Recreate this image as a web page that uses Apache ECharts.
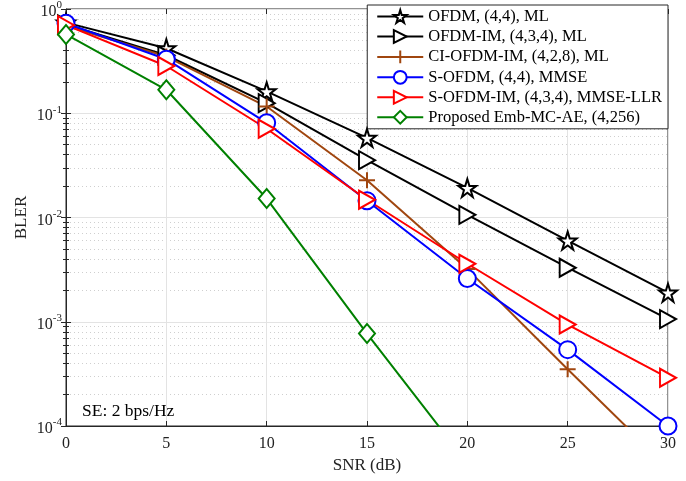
<!DOCTYPE html>
<html><head><meta charset="utf-8">
<script src="https://cdn.jsdelivr.net/npm/echarts@6/dist/echarts.min.js"></script>
<style>html,body{margin:0;padding:0;background:#fff}#c{width:686px;height:481px}</style>
</head><body><div id="c"></div>
<script>
const snr = [0, 5, 10, 15, 20, 25, 30];
const ofdm = [0.74, 0.42, 0.162, 0.058, 0.0192, 0.006, 0.0019];
const ofdmIm = [0.71, 0.36, 0.125, 0.0355, 0.0106, 0.0033, 0.00106];
const ciOfdmIm = [0.69, 0.35, 0.116, 0.0228, 0.0032, 0.00035, 0.00004];
const sOfdm = [0.73, 0.33, 0.081, 0.0145, 0.0026, 0.00054, 0.0001];
const sOfdmIm = [0.70, 0.284, 0.071, 0.0148, 0.0036, 0.00094, 0.00029];
const proposed = [0.57, 0.168, 0.0152, 0.00077, 0.000044];
const names = ['OFDM, (4,4), ML', 'OFDM-IM, (4,3,4), ML', 'CI-OFDM-IM, (4,2,8), ML',
  'S-OFDM, (4,4), MMSE', 'S-OFDM-IM, (4,3,4), MMSE-LLR', 'Proposed Emb-MC-AE, (4,256)'];

const FONT = 'Liberation Serif';
const STAR = 'path://M50,0 L61,35 L98,35 L68,57 L79,91 L50,70 L21,91 L32,57 L2,35 L39,35 Z';
const TRI_R = 'path://M0,0 L10,5 L0,10 Z';
const PLUS = 'path://M0,5 L10,5 M5,0 L5,10';

function mk(name, data, color, symbol, size, extra) {
  return Object.assign({
    name, type: 'line', data: data.map((v, i) => [snr[i], v]),
    symbol, symbolSize: size, clip: true,
    lineStyle: {color, width: 2},
    itemStyle: {color: '#fff', borderColor: color, borderWidth: 2},
    emphasis: {disabled: true}, animation: false, z: 5
  }, extra || {});
}

const series = [
  mk(names[0], ofdm, '#000000', STAR, 18),
  mk(names[1], ofdmIm, '#000000', TRI_R, [16, 18]),
  mk(names[2], ciOfdmIm, '#a0460f', PLUS, 16, {itemStyle: {color: 'none', borderColor: '#a0460f', borderWidth: 2}}),
  mk(names[3], sOfdm, '#0000ff', 'circle', 17),
  mk(names[4], sOfdmIm, '#ff0000', TRI_R, [16, 18]),
  mk(names[5], proposed, '#008000', 'diamond', [16, 19])
];

const chart = echarts.init(document.getElementById('c'));
chart.setOption({
  animation: false,
  backgroundColor: '#fff',
  textStyle: {fontFamily: FONT},
  grid: {left: 66, right: 18, top: 6, bottom: 55, show: true, borderColor: '#262626', borderWidth: 1},
  legend: {
    orient: 'vertical', right: 18, top: 5, data: names,
    backgroundColor: '#fff', borderColor: '#262626', borderWidth: 1,
    padding: [3, 6, 3, 9], itemGap: 3, itemWidth: 46, itemHeight: 16,
    textStyle: {fontFamily: FONT, fontSize: 16.5, color: '#000'}
  },
  xAxis: [{
    type: 'value', min: 0, max: 30, interval: 5,
    name: 'SNR (dB)', nameLocation: 'middle', nameGap: 31,
    nameTextStyle: {fontFamily: FONT, fontSize: 17, color: '#222'},
    axisLine: {lineStyle: {color: '#262626'}},
    axisTick: {inside: true, length: 5, lineStyle: {color: '#262626'}},
    axisLabel: {fontFamily: FONT, fontSize: 16, color: '#222', margin: 10},
    splitLine: {lineStyle: {color: '#e3e3e3', width: 1}}
  }, {
    type: 'value', min: 0, max: 30, interval: 5, position: 'top',
    axisLine: {show: false}, axisTick: {inside: true, length: 5, lineStyle: {color: '#262626'}},
    axisLabel: {show: false}, splitLine: {show: false}
  }],
  yAxis: [{
    type: 'log', logBase: 10, min: 1e-4, max: 1,
    name: 'BLER', nameLocation: 'middle', nameGap: 36, nameMoveOverlap: false,
    nameTextStyle: {fontFamily: FONT, fontSize: 17, color: '#222'},
    axisLine: {lineStyle: {color: '#262626'}},
    axisTick: {inside: true, length: 5, lineStyle: {color: '#262626'}},
    minorTick: {show: true, splitNumber: 9, length: 3, lineStyle: {color: '#262626'}},
    minorSplitLine: {show: true, lineStyle: {color: '#cfcfcf', type: [1, 3], width: 1}},
    axisLabel: {
      margin: 4,
      formatter: v => '{b|10}{s|' + Math.round(Math.log10(v)) + '}',
      rich: {b: {fontFamily: FONT, fontSize: 16, color: '#222', padding: [6, 0, 0, 0]},
             s: {fontFamily: FONT, fontSize: 11, color: '#222', padding: [0, 0, 7, 0]}}
    },
    splitLine: {lineStyle: {color: '#e3e3e3', width: 1}}
  }, {
    type: 'log', logBase: 10, min: 1e-4, max: 1, position: 'right',
    axisLine: {show: false}, axisTick: {inside: true, length: 5, lineStyle: {color: '#262626'}},
    minorTick: {show: true, splitNumber: 9, length: 3, lineStyle: {color: '#262626'}},
    axisLabel: {show: false}, splitLine: {show: false}
  }],
  graphic: [{type: 'text', left: 82, top: 402,
    style: {text: 'SE: 2 bps/Hz', fontFamily: FONT, fontSize: 17.5, fill: '#000'}}],
  series
});
</script></body></html>
